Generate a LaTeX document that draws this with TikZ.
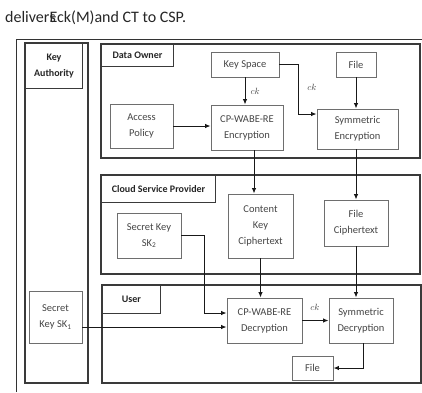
\documentclass[tikz,border=0pt]{standalone}
\usepackage{fontspec}
\setmainfont{Carlito}
\usepackage{tikz}
\usetikzlibrary{arrows.meta}

\definecolor{boxline}{HTML}{6E6E6E}
\definecolor{panelline}{HTML}{3A3A3A}
\definecolor{boxtext}{HTML}{454545}

\tikzset{
  box/.style={draw=boxline, line width=0.9pt, text=boxtext, align=center,
    inner sep=1pt, font=\fontsize{10.5}{16}\selectfont},
  panel/.style={draw=panelline, line width=1.4pt},
  paneltitle/.style={draw=panelline, line width=1pt, anchor=north west, inner sep=0pt,
    align=center, text=black!85, font=\bfseries\fontsize{10}{16}\selectfont},
  arr/.style={-{Latex[length=5.5pt,width=4.5pt]}, line width=1pt, black!90},
  cklabel/.style={font=\fontsize{9}{10}\selectfont, text=boxtext, inner sep=1pt}
}

\begin{document}
\begin{tikzpicture}[x=1pt, y=-1pt]
  \useasboundingbox (0,0) rectangle (422,392);
  \node[anchor=west, inner sep=0pt, font=\fontsize{16}{18}\selectfont, text=black!85] (caption) at (5,18) {deliver\rlap{s}Eck(M)and CT to CSP.};
  % outer frame
  \draw[line width=1pt, black!80] (16,392) -- (16,39) -- (422,39);
  % key authority column
  \draw[panel] (25,43) rectangle (88,383);
  \node[paneltitle, minimum width=57pt, minimum height=45pt] (katitle) at (25,43) {Key\\Authority};
  % data owner
  \draw[panel] (101,44) rectangle (420,158);
  \node[paneltitle, minimum width=72pt, minimum height=22pt] (dotitle) at (101,44) {Data Owner};
  % cloud service provider
  \draw[panel] (101,175) rectangle (420,274);
  \node[paneltitle, minimum width=114pt, minimum height=27pt] (csptitle) at (101,175) {Cloud Service Provider};
  % user
  \draw[panel] (102,285) rectangle (421,383);
  \node[paneltitle, minimum width=58pt, minimum height=28pt] (usertitle) at (102,285) {User};

  \node[box, minimum width=68pt, minimum height=25pt] (keyspace) at (245,64.5) {Key Space};
  \node[box, minimum width=40pt, minimum height=25pt] (filea) at (356,64.5) {File};
  \node[box, minimum width=63pt, minimum height=44pt] (policy) at (141.5,126) {Access\\Policy};
  \node[box, minimum width=72pt, minimum height=45pt] (cpenc) at (247,127.5) {CP-WABE-RE\\Encryption};
  \node[box, minimum width=81pt, minimum height=40pt] (symenc) at (357.5,129) {Symmetric\\Encryption};

  \node[box, minimum width=64pt, minimum height=45pt] (sktwo) at (149,235.5) {Secret Key\\SK\textsubscript{2}};
  \node[box, minimum width=65pt, minimum height=64pt] (ckct) at (260.5,226) {Content\\Key\\Ciphertext};
  \node[box, minimum width=64pt, minimum height=46pt] (filect) at (356,223) {File\\Ciphertext};

  \node[box, minimum width=53pt, minimum height=52pt] (skone) at (55.5,317) {Secret\\Key SK\textsubscript{1}};
  \node[box, minimum width=75pt, minimum height=45pt] (cpdec) at (264.5,320.5) {CP-WABE-RE\\Decryption};
  \node[box, minimum width=64pt, minimum height=45pt] (symdec) at (361,320.5) {Symmetric\\Decryption};
  \node[box, minimum width=41pt, minimum height=24pt] (fileb) at (312.5,368) {File};

  \coordinate (kbend) at (298,114);
  \coordinate (sbend) at (204,313);

  \draw[arr] (keyspace.south) -- node[cklabel, right=4pt] (ckone) {$ck$} (keyspace.south |- cpenc.north);
  \draw[arr] (keyspace.east) -| (kbend) -- (kbend -| symenc.west);
  \node[cklabel] (cktwo) at (312,87) {$ck$};
  \draw[arr] (filea.south) -- (filea.south |- symenc.north);
  \draw[arr] (policy.east) -- (policy.east -| cpenc.west);
  \draw[arr] ([xshift=7pt]cpenc.south) -- ([xshift=7pt]cpenc.south |- ckct.north);
  \draw[arr] (filea.south |- symenc.south) -- (filea.south |- filect.north);
  \draw[arr] (ckct.south) -- (ckct.south |- cpdec.north);
  \draw[arr] (filect.south) -- (filect.south |- symdec.north);
  \draw[arr] (sktwo.east) -| (sbend) -- (sbend -| cpdec.west);
  \draw[arr] ([yshift=-10pt]skone.east) -- ([yshift=-10pt]skone.east -| cpdec.west);
  \draw[arr] (cpdec.east) -- (cpdec.east -| symdec.west);
  \node[cklabel] (ckthree) at (315,307) {$ck$};
  \draw[arr] ([xshift=2pt]symdec.south) |- (fileb.east);
\end{tikzpicture}
\end{document}
